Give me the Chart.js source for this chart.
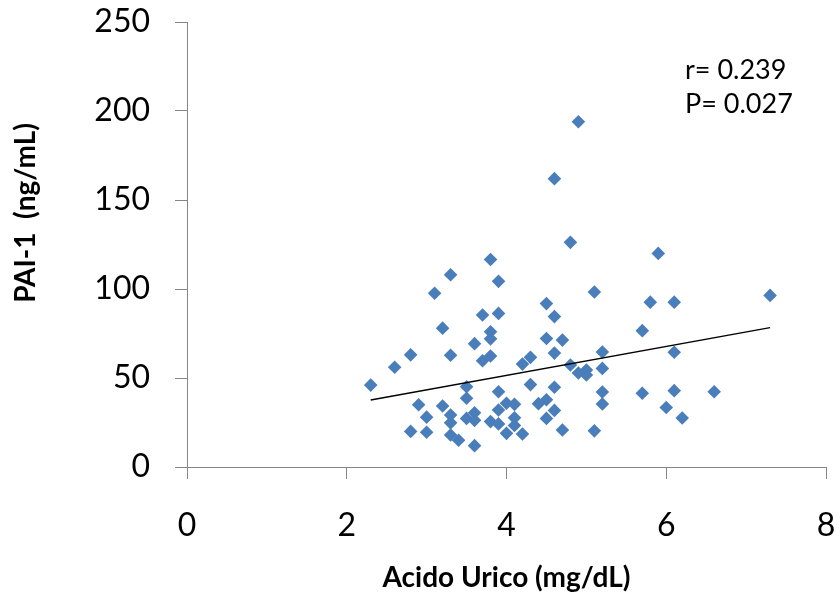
<!DOCTYPE html>
<html>
<head>
<meta charset="utf-8">
<script src="https://cdn.jsdelivr.net/npm/chart.js@4.4.0/dist/chart.umd.min.js"></script>
<style>
html,body{margin:0;padding:0;background:#ffffff;}
#wrap{width:840px;height:594px;position:relative;}
</style>
</head>
<body>
<div id="wrap"><canvas id="c" width="840" height="594"></canvas></div>
<script>
// ---- data ----
const uricAcid = [2.3,2.6,2.8,2.8,2.9,3.0,3.0,3.1,3.2,3.2,3.3,3.3,3.3,3.3,3.3,3.4,3.5,3.5,3.5,3.6,3.6,3.6,3.6,3.7,3.7,3.8,3.8,3.8,3.8,3.8,3.9,3.9,3.9,3.9,3.9,4.0,4.0,4.1,4.1,4.1,4.2,4.2,4.3,4.3,4.4,4.5,4.5,4.5,4.5,4.6,4.6,4.6,4.6,4.6,4.7,4.7,4.8,4.8,4.9,4.9,5.0,5.0,5.1,5.1,5.2,5.2,5.2,5.2,5.7,5.7,5.8,5.9,6.0,6.1,6.1,6.1,6.2,6.6,7.3];
const pai1 = [46,56,63,20,35,28,19.5,97.6,78,34.3,108,62.8,29.2,24.8,18,15,45.1,38.6,27.3,69.3,30.5,26.2,12,85.4,59.7,116.6,76,72,62.4,25.5,104.3,86.3,42.3,32,24.2,35.8,18.9,35.2,27.6,23.3,57.8,18.5,61.6,46.3,35.6,91.8,72.2,37.8,27.3,162,84.5,64,44.8,31.8,71.3,20.8,126.2,57.3,194,52.8,54.5,51.7,98.3,20.3,64.6,55.4,42.1,35.4,76.6,41.4,92.6,120,33.4,92.6,64.5,42.9,27.5,42.3,96.4];
const trendX = [2.3, 7.3];
const trendY = [37.6, 78.3];
const xTicks = [0,2,4,6,8];
const yTicks = [0,50,100,150,200,250];
const xTitle = 'Acido Urico (mg/dL)';
const yTitle = 'PAI-1  (ng/mL)';
const statLines = ['r= 0.239', 'P= 0.027'];

// ---- styles ----
const FONT = 'Lato, "Open Sans", "Liberation Sans", sans-serif';
const MARK = '#4A7EBB';
const AXIS = '#868686';

const points = uricAcid.map((x, i) => ({x: x, y: pai1[i]}));
const trend = trendX.map((x, i) => ({x: x, y: trendY[i]}));

const textPlugin = {
  id: 'texts',
  afterDraw(chart) {
    const ctx = chart.ctx;
    const a = chart.chartArea;
    ctx.save();
    ctx.fillStyle = '#000';
    ctx.font = '27px ' + FONT;
    ctx.textAlign = 'left';
    ctx.textBaseline = 'middle';
    ctx.fillText(statLines[0], 685, 70);
    ctx.fillText(statLines[1], 685, 104);
    ctx.font = 'bold 28px ' + FONT;
    ctx.textAlign = 'center';
    ctx.fillText(xTitle, (a.left + a.right) / 2, 578);
    ctx.translate(26, 213);
    ctx.rotate(-Math.PI / 2);
    ctx.fillText(yTitle, 0, 0);
    ctx.restore();
  }
};

new Chart(document.getElementById('c'), {
  type: 'scatter',
  data: {
    datasets: [
      {
        type: 'line',
        data: trend,
        borderColor: '#000000',
        borderWidth: 1.5,
        pointRadius: 0,
        fill: false,
        order: 0
      },
      {
        data: points,
        pointStyle: 'rectRot',
        pointRadius: 6.8,
        pointBackgroundColor: MARK,
        pointBorderColor: MARK,
        pointBorderWidth: 0,
        showLine: false,
        order: 1
      }
    ]
  },
  options: {
    responsive: false,
    animation: false,
    devicePixelRatio: 1,
    layout: {padding: {left: 0, right: 14, top: 22, bottom: 0}},
    plugins: {legend: {display: false}, tooltip: {enabled: false}},
    scales: {
      x: {
        type: 'linear', min: 0, max: 8,
        afterBuildTicks: s => { s.ticks = xTicks.map(v => ({value: v})); },
        ticks: {font: {family: FONT, size: 32}, color: '#000', padding: 27, maxRotation: 0},
        grid: {drawOnChartArea: false, drawTicks: true, tickLength: 12, color: AXIS},
        border: {display: true, color: AXIS, width: 1},
        afterFit: s => { s.height = 127; s.paddingLeft = 0; s.paddingRight = 0; }
      },
      y: {
        type: 'linear', min: 0, max: 250,
        afterBuildTicks: s => { s.ticks = yTicks.map(v => ({value: v})); },
        ticks: {font: {family: FONT, size: 32}, color: '#000', padding: 25},
        grid: {drawOnChartArea: false, drawTicks: true, tickLength: 12, color: AXIS},
        border: {display: true, color: AXIS, width: 1},
        afterFit: s => { s.width = 187; s.paddingTop = 0; s.paddingBottom = 0; }
      }
    }
  },
  plugins: [textPlugin]
});
</script>
</body>
</html>
